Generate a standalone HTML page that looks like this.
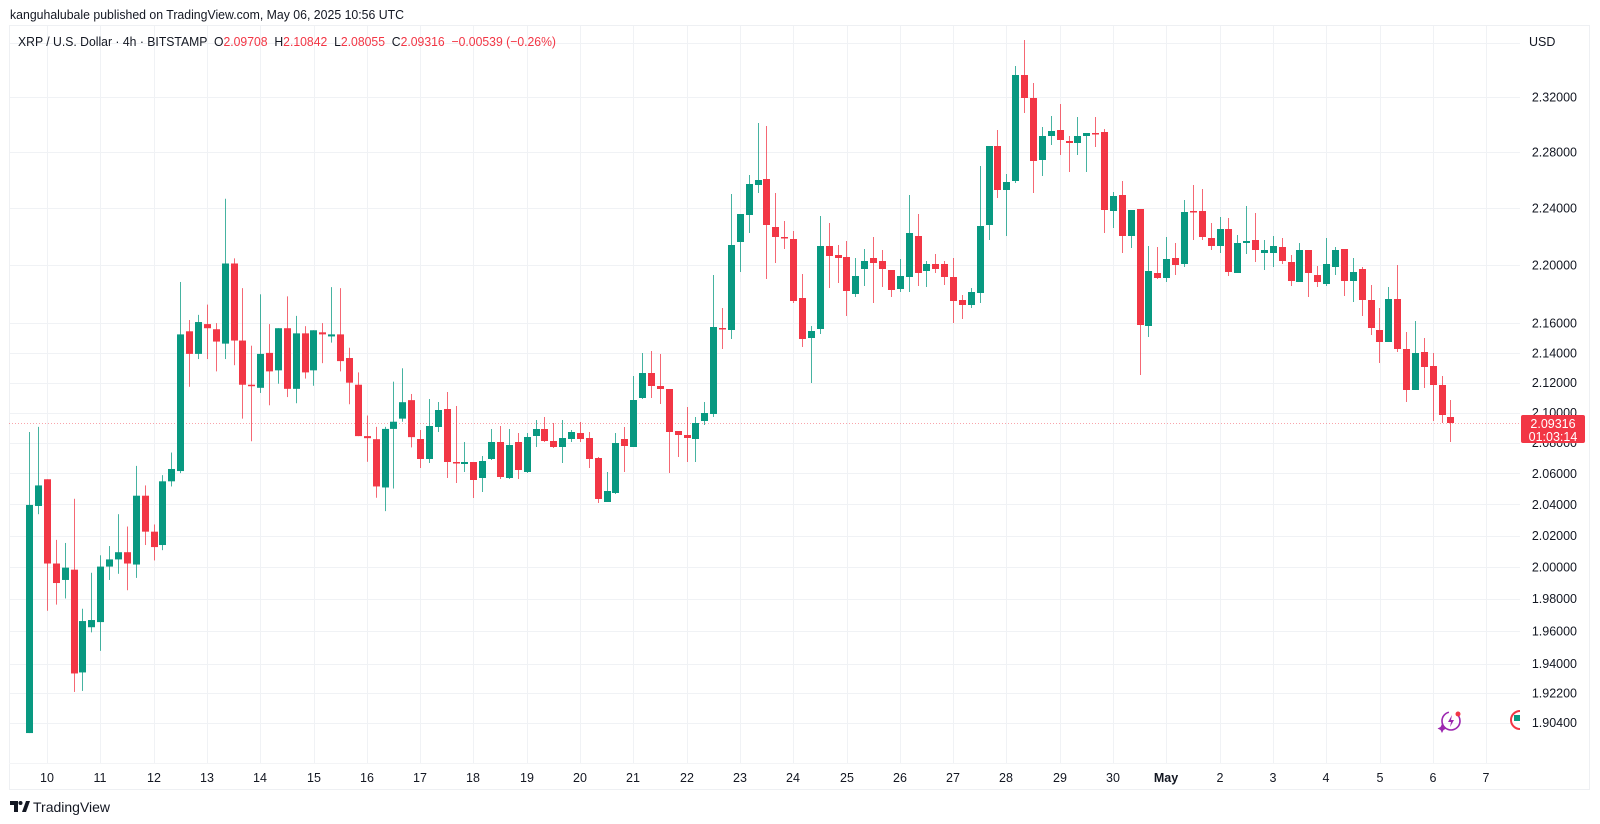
<!DOCTYPE html>
<html><head><meta charset="utf-8">
<style>
html,body{margin:0;padding:0;background:#fff;}
svg{display:block;font-family:"Liberation Sans",sans-serif;}
</style></head>
<body>
<svg id="s" width="1600" height="824" viewBox="0 0 1600 824" xmlns="http://www.w3.org/2000/svg">
<rect x="0" y="0" width="1600" height="824" fill="#fff"/>
<g id="grid" stroke="#f0f2f5" stroke-width="1"></g>
<rect x="9.5" y="25.5" width="1580" height="764" fill="none" stroke="#eef0f3"/>
<line x1="9" y1="763.5" x2="1520" y2="763.5" stroke="#f3f4f6"/>
<line x1="9" y1="423.5" x2="1520" y2="423.5" stroke="#F23645" stroke-opacity="0.45" stroke-dasharray="1,2"/>
<g id="candles"></g>
<text x="10" y="19" font-size="13" fill="#131722" textLength="394" lengthAdjust="spacingAndGlyphs">kanguhalubale published on TradingView.com, May 06, 2025 10:56 UTC</text>
<text x="18" y="46" font-size="13" fill="#131722" xml:space="preserve" textLength="538" lengthAdjust="spacingAndGlyphs">XRP / U.S. Dollar · 4h · BITSTAMP  O<tspan fill="#F23645">2.09708</tspan>  H<tspan fill="#F23645">2.10842</tspan>  L<tspan fill="#F23645">2.08055</tspan>  C<tspan fill="#F23645">2.09316</tspan>  <tspan fill="#F23645">−0.00539 (−0.26%)</tspan></text>
<text x="1529" y="46" font-size="12.5" fill="#131722">USD</text>
<g font-size="12.5" fill="#131722" text-anchor="end">
<text x="1577" y="101.5">2.32000</text>
<text x="1577" y="156.5">2.28000</text>
<text x="1577" y="212.5">2.24000</text>
<text x="1577" y="269.5">2.20000</text>
<text x="1577" y="327.5">2.16000</text>
<text x="1577" y="357.5">2.14000</text>
<text x="1577" y="387">2.12000</text>
<text x="1577" y="417">2.10000</text>
<text x="1577" y="447">2.08000</text>
<text x="1577" y="478">2.06000</text>
<text x="1577" y="509">2.04000</text>
<text x="1577" y="540">2.02000</text>
<text x="1577" y="571.5">2.00000</text>
<text x="1577" y="603">1.98000</text>
<text x="1577" y="635.5">1.96000</text>
<text x="1577" y="668">1.94000</text>
<text x="1577" y="697.5">1.92200</text>
<text x="1577" y="727">1.90400</text>
</g>
<rect x="1521" y="415" width="64" height="28" rx="2" fill="#F23645"/>
<text x="1553" y="428" font-size="12.5" fill="#fff" text-anchor="middle">2.09316</text>
<text x="1553" y="441" font-size="12.5" fill="#fff" text-anchor="middle">01:03:14</text>
<g font-size="12.5" fill="#131722" text-anchor="middle">
<text x="47" y="782">10</text><text x="100" y="782">11</text><text x="154" y="782">12</text><text x="207" y="782">13</text><text x="260" y="782">14</text><text x="314" y="782">15</text><text x="367" y="782">16</text><text x="420" y="782">17</text><text x="473" y="782">18</text><text x="527" y="782">19</text><text x="580" y="782">20</text><text x="633" y="782">21</text><text x="687" y="782">22</text><text x="740" y="782">23</text><text x="793" y="782">24</text><text x="847" y="782">25</text><text x="900" y="782">26</text><text x="953" y="782">27</text><text x="1006" y="782">28</text><text x="1060" y="782">29</text><text x="1113" y="782">30</text><text x="1166" y="782" font-weight="bold">May</text><text x="1220" y="782">2</text><text x="1273" y="782">3</text><text x="1326" y="782">4</text><text x="1380" y="782">5</text><text x="1433" y="782">6</text><text x="1486" y="782">7</text>
</g>
<g transform="translate(1451,721)">
<circle r="9" fill="none" stroke="#9c27b0" stroke-width="1.6" stroke-dasharray="40,8"/>
<path d="M1,-6 L-3,1 L0,1 L-1,6 L3,-1 L0,-1 Z" fill="#9c27b0"/>
<circle cx="7" cy="-7" r="2.5" fill="#F23645"/>
<path d="M-9,3 l1.5,3 l3,1.5 l-3,1.5 l-1.5,3 l-1.5,-3 l-3,-1.5 l3,-1.5z" fill="#9c27b0"/>
</g>
<path d="M1520,711 A9,9 0 0 0 1520,729" fill="none" stroke="#F23645" stroke-width="2"/>
<rect x="1514" y="715" width="6" height="6" fill="#089981"/>
<g transform="translate(10,801)" fill="#131722">
<path d="M0,0 H8 V11 H4 V4 H0 Z"/>
<circle cx="10.5" cy="2" r="2"/>
<path d="M12,11 L16,0 H20 L16,11 Z"/>
</g>
<text x="33" y="812" font-size="14" fill="#131722">TradingView</text>
</svg>
<script>
var NS="http://www.w3.org/2000/svg";
var grid=document.getElementById('grid');
function ln(x1,y1,x2,y2,p){var l=document.createElementNS(NS,'line');l.setAttribute('x1',x1);l.setAttribute('y1',y1);l.setAttribute('x2',x2);l.setAttribute('y2',y2);p.appendChild(l);return l;}
[43,97,152,208,265,323,353,382.5,412.5,443,473,504,535.5,567,599,631,663.5,693,723].forEach(function(y){ln(9,Math.round(y)+0.5,1520,Math.round(y)+0.5,grid);});
for(var k=0;k<28;k++){var x=Math.round(47+53.3*k)+0.5;ln(x,26,x,763,grid);}
var z1=[[718,496,425,718],[497,477,420,505],[471,553,471,599],[553,572,530,593],[569,557,533,587],[559,660,490,678],[659,609,597,677],[615,608,562,620],[610,556,545,638],[556,549,536,569],[549,542,505,563],[542,553,517,579],[554,487,458,567],[487,522,477,535],[522,537,515,550],[535,473,467,540],[473,461,445,478],[463,330,279,465],[327,349,316,381],[349,318,311,354],[320,324,301,354],[325,337,319,366],[339,261,198,354],[261,336,256,360],[336,379,285,412],[379,380,341,434],[382,349,291,387],[348,366,320,399],[365,324,324,378],[324,383,293,391],[383,329,312,397],[329,367,322,373],[365,326,326,380],[328,330,319,358],[332,330,284,338],[330,356,285,366],[353,377,343,398],[379,429,367,429],[429,431,409,454],[432,478,420,489],[479,422,420,502],[422,415,376,480],[412,396,363,415],[394,430,388,440]];
var rest=[[439,459,430,468],[459,426,399,463],[427,410,402,432],[409,462,392,478],[462,463,406,483],[464,462,442,472],[462,480,462,498],[478,461,456,492],[459,442,429,460],[442,477,426,479],[478,445,429,479],[442,470,433,479],[472,437,433,473],[436,429,420,447],[429,441,417,442],[441,447,423,448],[447,438,420,463],[439,432,430,442],[433,439,422,442],[438,459,432,468],[458,499,457,503],[502,491,472,502],[493,443,433,494],[439,446,427,472],[447,400,376,447],[398,373,353,399],[373,386,351,398],[386,389,354,404],[389,432,389,473],[431,435,431,457],[435,438,407,462],[439,423,417,462],[421,413,402,425],[414,327,275,417],[328,329,308,349],[330,245,194,339],[242,214,214,272],[215,184,175,233],[185,180,123,193],[179,225,126,279],[227,237,193,263],[237,238,221,249],[239,301,231,303],
[298,339,274,347],[338,331,326,383],[329,246,216,334],[246,256,223,288],[255,258,245,283],[257,291,241,316],[294,276,258,297],[269,261,249,286],[258,263,237,303],[261,269,250,287],[270,290,270,297],[289,276,259,292],[277,233,195,292],[236,273,214,286],[271,264,261,287],[264,269,254,273],[264,277,261,285],[277,301,258,323],[300,305,295,319],[305,292,288,308],[293,226,166,303],[225,146,146,240],[146,190,130,198],[190,182,174,236],[181,75,66,183],[75,98,40,113],[98,161,83,193],[160,136,127,176],[136,131,116,145],[130,140,104,155],[141,143,136,172],[143,136,117,155],[136,133,133,172],[133,134,117,147],[132,210,129,233],[211,196,192,228],[195,236,181,253],[236,210,210,248],[209,325,209,375],[326,271,246,337],[273,278,247,279],[278,259,237,282],[258,265,243,275],[264,212,200,267],
[211,212,185,240],[211,237,189,240],[238,246,223,250],[246,229,217,253],[229,272,218,276],[273,243,235,273],[243,241,206,254],[240,250,213,262],[253,250,240,270],[253,246,236,267],[247,261,238,264],[262,281,255,286],[282,250,243,282],[250,273,250,297],[275,282,266,287],[284,264,238,286],[267,250,247,275],[249,281,249,296],[281,272,258,302],[269,300,267,316],[300,328,285,335],[330,342,308,363],[342,299,287,342],[299,349,265,352],[349,390,332,402],[390,353,321,390],[352,367,338,388],[366,385,353,421],[385,415,376,423],[417,423,400,442]];
function c1(y){return 208+(y-207)*1.0275;}
var data=z1.map(function(d){return d.map(c1);}).concat(rest);
var g=document.getElementById('candles');
data.forEach(function(d,i){
  var x=29.2+8.883*i, o=d[0],c=d[1],h=Math.min(d[2],o,c),l=Math.max(d[3],o,c);
  var col=c<o?'#089981':'#F23645';
  var w=document.createElementNS(NS,'rect');
  w.setAttribute('x',(Math.round(x)).toFixed(0));w.setAttribute('y',h);w.setAttribute('width',1);w.setAttribute('height',Math.max(1,l-h));w.setAttribute('fill',col);w.setAttribute('fill-opacity','0.75');g.appendChild(w);
  var b=document.createElementNS(NS,'rect');var top=Math.min(o,c),ht=Math.max(1.5,Math.abs(o-c));
  b.setAttribute('x',Math.round(x)-3);b.setAttribute('y',top);b.setAttribute('width',7);b.setAttribute('height',ht);b.setAttribute('fill',col);g.appendChild(b);
});
</script>
</body></html>
